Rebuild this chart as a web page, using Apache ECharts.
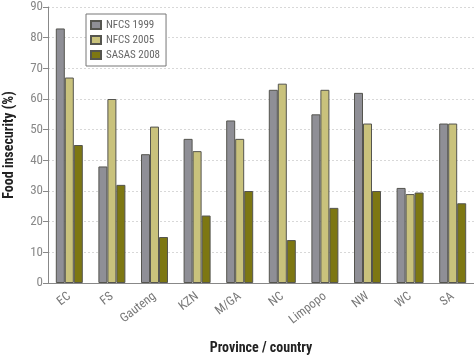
<!DOCTYPE html>
<html><head><meta charset="utf-8">
<script src="https://cdn.jsdelivr.net/npm/echarts@6/dist/echarts.min.js"></script>
<style>html,body{margin:0;padding:0;background:#fff}#c{width:474px;height:356px}</style>
</head><body><div id="c"></div>
<script>
const categories = ['EC','FS','Gauteng','KZN','M/GA','NC','Limpopo','NW','WC','SA'];
const seriesNames = ['NFCS 1999','NFCS 2005','SASAS 2008'];
const nfcs1999 = [83,38,42,47,53,63,55,62,31,52];
const nfcs2005 = [67,60,51,43,47,65,63,52,29,52];
const sasas2008 = [45,32,15,22,30,14,24.5,30,29.5,26];
const yTicks = [0,10,20,30,40,50,60,70,80,90];

const font = '"Roboto Condensed","DejaVu Sans Condensed",sans-serif';
const colors = ['#8f8f96','#c9c27c','#7d7712'];
const chart = echarts.init(document.getElementById('c'));
const mk = (name, data, i) => ({
  name, type:'bar', data, barWidth:9, barGap:'0%',
  itemStyle:{color:colors[i], borderColor:'#55554f', borderWidth:1}
});
chart.setOption({
  animation:false,
  grid:{left:48, right:0, top:7, bottom:73, containLabel:false, outerBoundsMode:'none'},
  legend:{
    show:true, left:86, top:14, orient:'vertical', itemWidth:10, itemHeight:8, itemGap:3,
    padding:[5,6,5,4], borderColor:'#777', borderWidth:1, backgroundColor:'#fff',
    textStyle:{fontFamily:font, fontSize:11, color:'#666', lineHeight:12},
    icon:'rect',
    data:seriesNames
  },
  xAxis:{
    type:'category', data:categories,
    name:'Province / country', nameLocation:'middle', nameGap:58,
    nameTextStyle:{fontFamily:font, fontSize:14, fontWeight:'bold', color:'#222'},
    axisLine:{lineStyle:{color:'#888'}},
    axisTick:{show:false},
    axisLabel:{rotate:38, fontFamily:font, fontSize:12.5, color:'#777', margin:12}
  },
  yAxis:{
    type:'value', min:yTicks[0], max:yTicks[yTicks.length-1], interval:10,
    name:'Food insecurity (%)', nameLocation:'middle', nameGap:32,
    nameTextStyle:{fontFamily:font, fontSize:14, fontWeight:'bold', color:'#222'},
    axisLine:{show:true, lineStyle:{color:'#888'}},
    axisTick:{show:true, length:5, lineStyle:{color:'#888'}},
    axisLabel:{fontFamily:font, fontSize:13, color:'#888', margin:5},
    splitLine:{show:true, lineStyle:{color:'#d8d8d8', type:[2,2]}}
  },
  series:[mk(seriesNames[0],nfcs1999,0), mk(seriesNames[1],nfcs2005,1), mk(seriesNames[2],sasas2008,2)]
});
</script></body></html>
